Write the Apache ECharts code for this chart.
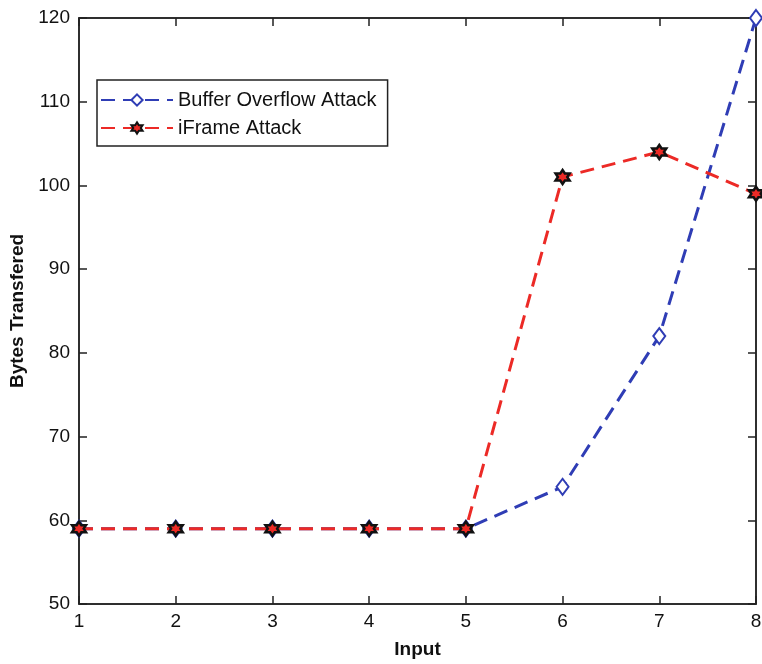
<!DOCTYPE html>
<html>
<head>
<meta charset="utf-8">
<script src="https://cdn.jsdelivr.net/npm/echarts@6/dist/echarts.min.js"></script>
<style>
  html, body { margin: 0; padding: 0; background: #fff; }
  #chart { width: 762px; height: 664px; }
</style>
</head>
<body>
<div id="chart"></div>
<script>
// Bytes transferred per input, two attack types
var inputs = [1, 2, 3, 4, 5, 6, 7, 8];
var bufferOverflow = [59, 59, 59, 59, 59, 64, 82, 120];
var iframeAttack = [59, 59, 59, 59, 59, 101, 104, 99];
var yTicks = { min: 50, max: 120, step: 10 };

var hexagram = 'path://M0,-10 L2.89,-5 L8.66,-5 L5.77,0 L8.66,5 L2.89,5 L0,10 L-2.89,5 L-8.66,5 L-5.77,0 L-8.66,-5 L-2.89,-5 Z';

function pairs(xs, ys) {
    return xs.map(function (x, i) { return [x, ys[i]]; });
}

var chart = echarts.init(document.getElementById('chart'));

var fontName = 'Liberation Sans, Arial, sans-serif';
var labelFont = { fontFamily: fontName, fontSize: 19, color: '#111' };
var nameFont = { fontFamily: fontName, fontSize: 19, fontWeight: 'bold', color: '#111' };
var frameLine = { color: '#222', width: 1.5 };
var frameTick = { inside: true, length: 8, lineStyle: { color: '#222', width: 1.5 } };

var option = {
    animation: false,
    grid: {
        left: 79, right: 6, top: 18, bottom: 60,
        outerBoundsMode: 'none',
        containLabel: false,
        show: true, borderColor: '#222', borderWidth: 1.5, backgroundColor: '#fff'
    },
    legend: {
        orient: 'vertical',
        left: 97, top: 80,
        padding: [10, 11, 8, 3],
        itemGap: 8,
        itemWidth: 72,
        itemHeight: 14,
        borderColor: '#222',
        borderWidth: 1.5,
        backgroundColor: '#fff',
        textStyle: { fontFamily: fontName, fontSize: 20, color: '#111' },
        data: ['Buffer Overflow Attack', 'iFrame Attack']
    },
    xAxis: [
        {
            type: 'value', min: 1, max: 8, interval: 1,
            name: 'Input', nameLocation: 'middle', nameGap: 36,
            nameTextStyle: nameFont,
            axisLine: { lineStyle: frameLine },
            axisTick: frameTick,
            axisLabel: Object.assign({ margin: 8 }, labelFont),
            splitLine: { show: false }
        },
        {
            type: 'value', min: 1, max: 8, interval: 1, position: 'top',
            axisLine: { lineStyle: frameLine },
            axisTick: frameTick,
            axisLabel: { show: false },
            splitLine: { show: false }
        }
    ],
    yAxis: [
        {
            type: 'value', min: yTicks.min, max: yTicks.max, interval: yTicks.step,
            name: 'Bytes Transfered', nameLocation: 'middle', nameGap: 52,
            nameTextStyle: nameFont,
            axisLine: { show: true, lineStyle: frameLine },
            axisTick: Object.assign({ show: true }, frameTick),
            axisLabel: Object.assign({ margin: 9 }, labelFont),
            splitLine: { show: false }
        },
        {
            type: 'value', min: yTicks.min, max: yTicks.max, interval: yTicks.step, position: 'right',
            axisLine: { show: true, lineStyle: frameLine },
            axisTick: Object.assign({ show: true }, frameTick),
            axisLabel: { show: false },
            splitLine: { show: false }
        }
    ],
    series: [
        {
            name: 'Buffer Overflow Attack',
            type: 'line',
            data: pairs(inputs, bufferOverflow),
            color: '#2f3db5',
            symbol: 'emptyDiamond',
            symbolSize: [12, 16],
            showAllSymbol: true,
            lineStyle: { type: [14, 8], width: 3, color: '#2f3db5' },
            itemStyle: { color: '#2f3db5', borderColor: '#2f3db5', borderWidth: 2.5 },
            z: 2
        },
        {
            name: 'iFrame Attack',
            type: 'line',
            data: pairs(inputs, iframeAttack),
            color: '#ec2a26',
            symbol: hexagram,
            symbolSize: 14,
            lineStyle: { type: [14, 8], width: 3, color: '#ec2a26' },
            itemStyle: { color: '#ec2a26', borderColor: '#111', borderWidth: 2.5 },
            z: 3
        }
    ]
};

chart.setOption(option);
</script>
</body>
</html>
